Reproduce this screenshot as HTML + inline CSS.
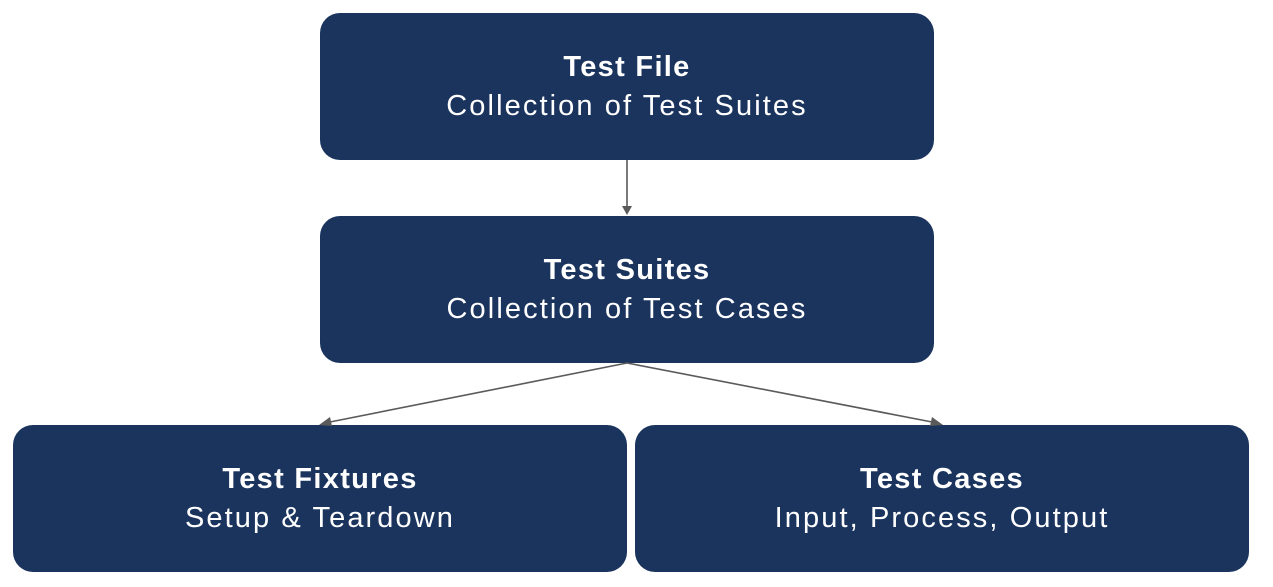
<!DOCTYPE html>
<html><head><style>
body{margin:0;width:1273px;height:587px;background:#fff;position:relative;overflow:hidden;font-family:"Liberation Sans",sans-serif}
.b{position:absolute;background:#1b345e;border-radius:20px;color:#fff;text-align:center;display:flex;flex-direction:column;justify-content:center;align-items:center}
.t{font-weight:bold;font-size:29px;line-height:39px;letter-spacing:1.3px}
.s{font-size:29px;line-height:39px;letter-spacing:2.1px}
svg{position:absolute;left:0;top:0}
</style></head><body>
<div class="b" style="left:320px;top:13px;width:614px;height:147px"><div class="t">Test File</div><div class="s">Collection of Test Suites</div></div>
<div class="b" style="left:320px;top:216px;width:614px;height:147px"><div class="t">Test Suites</div><div class="s">Collection of Test Cases</div></div>
<div class="b" style="left:13px;top:425px;width:614px;height:147px"><div class="t">Test Fixtures</div><div class="s">Setup &amp; Teardown</div></div>
<div class="b" style="left:635px;top:425px;width:614px;height:147px"><div class="t">Test Cases</div><div class="s">Input, Process, Output</div></div>
<svg width="1273" height="587">
<g stroke="#5a5a5a" stroke-width="1.6" fill="#5a5a5a">
<line x1="627" y1="160" x2="627" y2="207"/>
<polygon points="622,206 632,206 627,215" stroke="none"/>
<line x1="627" y1="363" x2="330" y2="422"/>
<polygon points="319,425 330,417 332,426" stroke="none"/>
<line x1="627" y1="363" x2="932" y2="422"/>
<polygon points="943,425 932,417 930,426" stroke="none"/>
</g></svg>
</body></html>
